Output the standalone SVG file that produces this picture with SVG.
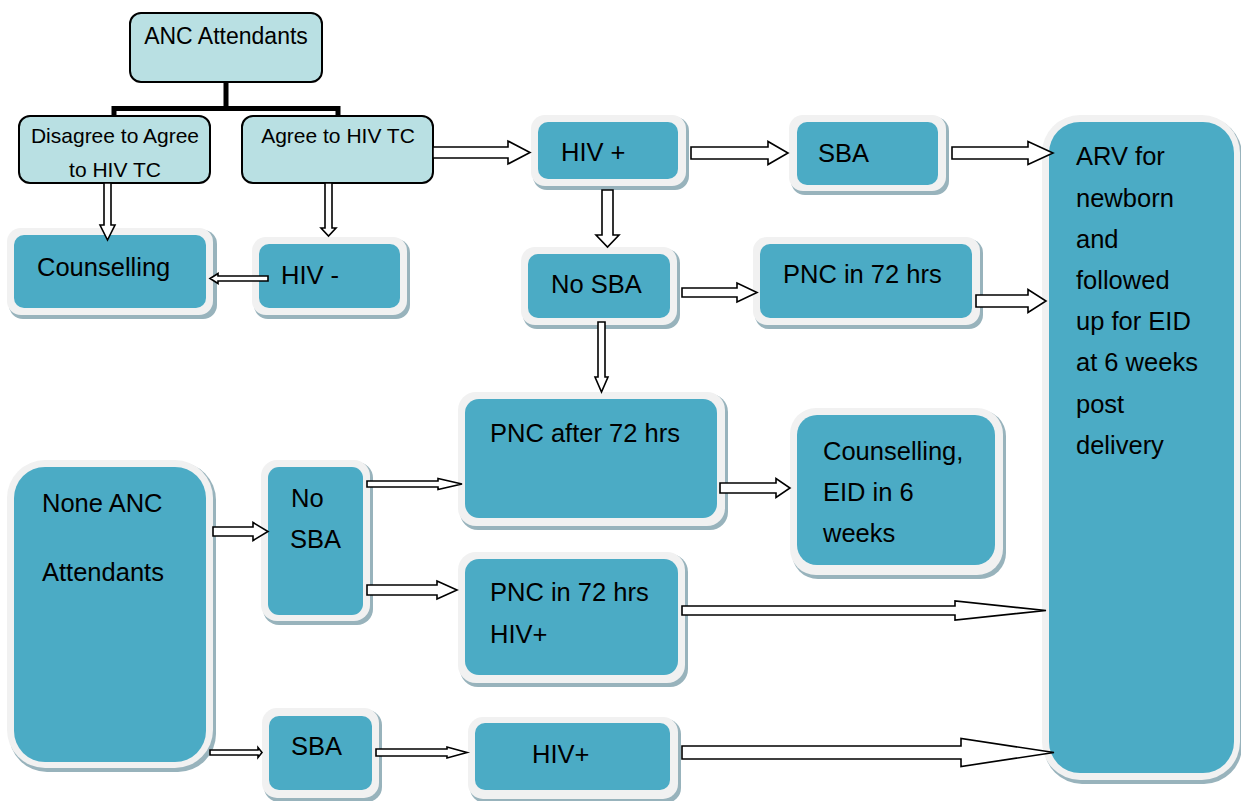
<svg xmlns="http://www.w3.org/2000/svg" width="1241" height="801" viewBox="0 0 1241 801">
  <style>
    .lt { fill: #b9e0e3; stroke: #000; stroke-width: 2; }
    .sh { fill: #98b3bc; }
    .rim { fill: #f1f1f1; }
    .in { fill: #4babc5; }
    .t { font-family: "Liberation Sans", Arial, sans-serif; fill: #000; }
    .ts { font-size: 21px; }
    .tb { font-size: 25.5px; }
    .arr { fill: #fff; stroke: #000; stroke-width: 1.6; stroke-linejoin: miter; }
    .tree { fill: none; stroke: #000; stroke-width: 5; }
  </style>
  <rect width="1241" height="801" fill="#fff"/>

  <!-- top decision boxes -->
  <g id="anc">
    <rect class="lt" x="130" y="13" width="192" height="69" rx="11"/>
    <text class="t" x="226" y="44" font-size="23" text-anchor="middle">ANC Attendants</text>
  </g>
  <g id="disagree">
    <rect class="lt" x="19" y="116" width="191" height="67" rx="11"/>
    <text class="t ts" x="115" y="143" text-anchor="middle">Disagree to Agree</text>
    <text class="t ts" x="115" y="177" text-anchor="middle">to HIV TC</text>
  </g>
  <g id="agree">
    <rect class="lt" x="242" y="116" width="191" height="67" rx="11"/>
    <text class="t ts" x="338" y="143" text-anchor="middle">Agree to HIV TC</text>
  </g>

  <!-- outcome boxes -->
  <g id="counselling">
    <rect class="sh" x="9" y="230" width="208" height="89" rx="14"/>
    <rect class="rim" x="7" y="228" width="206" height="87" rx="14"/>
    <rect class="in" x="14" y="235" width="192" height="73" rx="10"/>
    <text class="t tb" x="37" y="276">Counselling</text>
  </g>
  <g id="hiv-neg">
    <rect class="sh" x="254" y="239" width="156" height="80" rx="14"/>
    <rect class="rim" x="252" y="237" width="155" height="78" rx="14"/>
    <rect class="in" x="259" y="244" width="141" height="64" rx="10"/>
    <text class="t tb" x="281" y="284">HIV -</text>
  </g>
  <g id="hiv-pos">
    <rect class="sh" x="533" y="117" width="156" height="73" rx="14"/>
    <rect class="rim" x="531" y="115" width="155" height="71" rx="14"/>
    <rect class="in" x="538" y="122" width="140" height="57" rx="10"/>
    <text class="t tb" x="561" y="161">HIV +</text>
  </g>
  <g id="sba-top">
    <rect class="sh" x="791" y="117" width="158" height="78" rx="14"/>
    <rect class="rim" x="789" y="115" width="157" height="76" rx="14"/>
    <rect class="in" x="797" y="122" width="141" height="63" rx="10"/>
    <text class="t tb" x="818" y="162">SBA</text>
  </g>
  <g id="no-sba-top">
    <rect class="sh" x="523" y="249" width="157" height="80" rx="14"/>
    <rect class="rim" x="521" y="247" width="156" height="78" rx="14"/>
    <rect class="in" x="528" y="254" width="142" height="64" rx="10"/>
    <text class="t tb" x="551" y="293">No SBA</text>
  </g>
  <g id="pnc-72">
    <rect class="sh" x="755" y="239" width="228" height="90" rx="14"/>
    <rect class="rim" x="753" y="237" width="227" height="88" rx="14"/>
    <rect class="in" x="760" y="244" width="212" height="74" rx="10"/>
    <text class="t tb" x="783" y="283">PNC in 72 hrs</text>
  </g>
  <g id="arv">
    <rect class="sh" x="1044" y="117" width="198" height="667" rx="38"/>
    <rect class="rim" x="1042" y="115" width="198" height="665" rx="38"/>
    <rect class="in" x="1049" y="122" width="185" height="651" rx="31"/>
    <text class="t tb" x="1076" y="165">ARV for</text>
    <text class="t tb" x="1076" y="207">newborn</text>
    <text class="t tb" x="1076" y="248">and</text>
    <text class="t tb" x="1076" y="289">followed</text>
    <text class="t tb" x="1076" y="330">up for EID</text>
    <text class="t tb" x="1076" y="371">at 6 weeks</text>
    <text class="t tb" x="1076" y="413">post</text>
    <text class="t tb" x="1076" y="454">delivery</text>
  </g>
  <g id="pnc-after">
    <rect class="sh" x="460" y="394" width="268" height="136" rx="18"/>
    <rect class="rim" x="458" y="392" width="267" height="134" rx="18"/>
    <rect class="in" x="465" y="399" width="252" height="119" rx="14"/>
    <text class="t tb" x="490" y="442">PNC after 72 hrs</text>
  </g>
  <g id="counselling-eid">
    <rect class="sh" x="792" y="410" width="214" height="169" rx="26"/>
    <rect class="rim" x="790" y="408" width="213" height="167" rx="26"/>
    <rect class="in" x="797" y="415" width="198" height="150" rx="20"/>
    <text class="t tb" x="823" y="460">Counselling,</text>
    <text class="t tb" x="823" y="501">EID in 6</text>
    <text class="t tb" x="823" y="542">weeks</text>
  </g>
  <g id="none-anc">
    <rect class="sh" x="9" y="462" width="207" height="310" rx="38"/>
    <rect class="rim" x="7" y="460" width="206" height="308" rx="38"/>
    <rect class="in" x="14" y="467" width="192" height="295" rx="31"/>
    <text class="t tb" x="42" y="512">None ANC</text>
    <text class="t tb" x="42" y="581">Attendants</text>
  </g>
  <g id="no-sba-left">
    <rect class="sh" x="263" y="462" width="110" height="163" rx="16"/>
    <rect class="rim" x="261" y="460" width="109" height="161" rx="16"/>
    <rect class="in" x="268" y="467" width="95" height="148" rx="11"/>
    <text class="t tb" x="291" y="507">No</text>
    <text class="t tb" x="290" y="548">SBA</text>
  </g>
  <g id="pnc-72-hiv">
    <rect class="sh" x="460" y="554" width="228" height="133" rx="18"/>
    <rect class="rim" x="458" y="552" width="227" height="131" rx="18"/>
    <rect class="in" x="465" y="559" width="213" height="116" rx="14"/>
    <text class="t tb" x="490" y="601">PNC in 72 hrs</text>
    <text class="t tb" x="490" y="643">HIV+</text>
  </g>
  <g id="sba-bottom">
    <rect class="sh" x="264" y="710" width="118" height="92" rx="15"/>
    <rect class="rim" x="262" y="708" width="117" height="90" rx="15"/>
    <rect class="in" x="269" y="716" width="103" height="74" rx="10"/>
    <text class="t tb" x="291" y="755">SBA</text>
  </g>
  <g id="hiv-pos-bottom">
    <rect class="sh" x="470" y="719" width="211" height="84" rx="15"/>
    <rect class="rim" x="468" y="717" width="210" height="82" rx="15"/>
    <rect class="in" x="475" y="723" width="195" height="67" rx="10"/>
    <text class="t tb" x="532" y="763">HIV+</text>
  </g>

  <!-- connectors -->
  <g id="connectors">
    <path class="tree" d="M226 82 V108.5 M111.5 108.5 H340.5 M114 108.5 V116 M338 108.5 V116"/>
    <!-- downward arrows -->
    <polygon class="arr" points="104,183 111,183 111,225 115,225 107.5,240 100,225 104,225"/>
    <polygon class="arr" points="325,183 332,183 332,228 336,228 328.5,236 321,228 325,228"/>
    <polygon class="arr" points="602,190 613,190 613,235 619,235 607.5,247 596,235 602,235"/>
    <polygon class="arr" points="598,322 605,322 605,377 608,377 601.5,392 595,377 598,377"/>
    <!-- leftward arrow -->
    <polygon class="arr" points="268,276 218,276 218,273.5 210,278.5 218,283.5 218,281 268,281"/>
    <!-- rightward arrows -->
    <polygon class="arr" points="433,147 508,147 508,141 530,152.5 508,164 508,158 433,158"/>
    <polygon class="arr" points="691,147 768,147 768,141.5 788,153 768,164.5 768,159 691,159"/>
    <polygon class="arr" points="952,147 1028,147 1028,141.5 1053,153 1028,164.5 1028,159 952,159"/>
    <polygon class="arr" points="682,288 737,288 737,283 757,292.5 737,302 737,297 682,297"/>
    <polygon class="arr" points="976,295 1028,295 1028,289.5 1046,301 1028,312.5 1028,307 976,307"/>
    <polygon class="arr" points="213,527 253,527 253,522.5 268,531.5 253,540.5 253,536 213,536"/>
    <polygon class="arr" points="367,481 438,481 438,478.5 462,484 438,489.5 438,487 367,487"/>
    <polygon class="arr" points="367,585 437,585 437,581 457,590 437,599 437,595 367,595"/>
    <polygon class="arr" points="210,750 258,750 258,747.5 262,752.5 258,757.5 258,755 210,755"/>
    <polygon class="arr" points="376,749 447,749 447,747 467,752.5 447,758 447,756 376,756"/>
    <polygon class="arr" points="720,483 776,483 776,478.5 790,488 776,497.5 776,493 720,493"/>
    <polygon class="arr" points="682,606 955,606 955,601 1046,610.5 955,620 955,615 682,615"/>
    <polygon class="arr" points="682,746 961,746 961,738.5 1054,752.5 961,766.5 961,759 682,759"/>
  </g>
</svg>
